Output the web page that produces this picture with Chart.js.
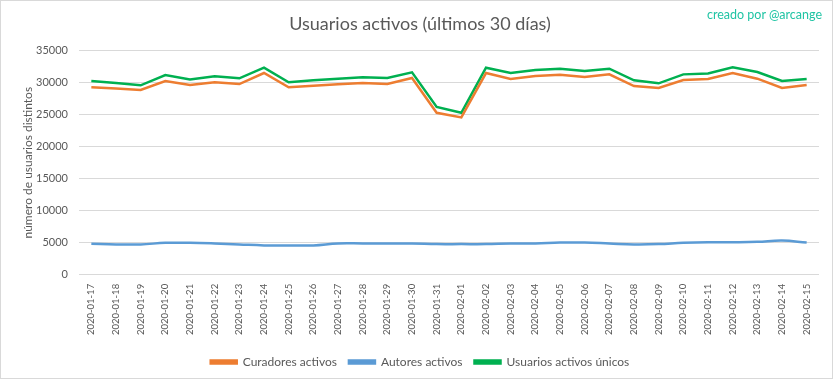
<!DOCTYPE html>
<html>
<head>
<meta charset="utf-8">
<script src="https://cdn.jsdelivr.net/npm/chart.js@4.4.1/dist/chart.umd.min.js"></script>
<style>
  html, body { margin: 0; padding: 0; background: #fff; }
  #wrap { position: relative; width: 833px; height: 379px; box-sizing: border-box; border: 1px solid #d9d9d9; }
  #c { position: absolute; left: 0; top: 0; }
  #credit { position: absolute; right: 10px; top: 6px; font-family: Lato, "Open Sans", sans-serif; font-size: 12.5px; color: #20c4a4; }
</style>
</head>
<body>
<div id="wrap">
  <canvas id="c" width="831" height="377"></canvas>
  <div id="credit">creado por @arcange</div>
</div>
<script>
const categories = ["2020-01-17","2020-01-18","2020-01-19","2020-01-20","2020-01-21","2020-01-22","2020-01-23","2020-01-24","2020-01-25","2020-01-26","2020-01-27","2020-01-28","2020-01-29","2020-01-30","2020-01-31","2020-02-01","2020-02-02","2020-02-03","2020-02-04","2020-02-05","2020-02-06","2020-02-07","2020-02-08","2020-02-09","2020-02-10","2020-02-11","2020-02-12","2020-02-13","2020-02-14","2020-02-15"];
const curadoresActivos = [29270,29100,28850,30250,29630,30050,29780,31500,29270,29530,29740,29950,29790,30720,25290,24570,31500,30560,31020,31240,30870,31290,29470,29160,30400,30560,31500,30620,29160,29630];
const autoresActivos = [4850,4750,4750,5000,5000,4900,4750,4600,4600,4600,4900,4900,4900,4900,4800,4800,4800,4900,4900,5050,5050,4900,4750,4800,5000,5100,5100,5150,5350,5050];
const usuariosActivosUnicos = [30250,29950,29580,31180,30500,30980,30670,32330,30050,30360,30620,30830,30720,31600,26220,25290,32330,31500,31960,32170,31800,32170,30360,29890,31290,31440,32380,31650,30250,30560];
const yTicks = [0,5000,10000,15000,20000,25000,30000,35000];
const seriesNames = ["Curadores activos","Autores activos","Usuarios activos únicos"];
const seriesColors = ["#ED7D31","#5B9BD5","#00B050"];

const FONT = 'Lato, "Open Sans", sans-serif';
const GREY = '#595959';

new Chart(document.getElementById('c'), {
  type: 'line',
  data: {
    labels: categories,
    datasets: [
      { label: seriesNames[0], data: curadoresActivos, borderColor: seriesColors[0], backgroundColor: seriesColors[0], borderWidth: 2.5, pointRadius: 0, tension: 0 },
      { label: seriesNames[1], data: autoresActivos, borderColor: seriesColors[1], backgroundColor: seriesColors[1], borderWidth: 2.5, pointRadius: 0, tension: 0.4 },
      { label: seriesNames[2], data: usuariosActivosUnicos, borderColor: seriesColors[2], backgroundColor: seriesColors[2], borderWidth: 2.5, pointRadius: 0, tension: 0 }
    ]
  },
  options: {
    responsive: false,
    animation: false,
    layout: { padding: { left: 20, right: 13, top: 0, bottom: 0 } },
    plugins: {
      title: { display: true, text: 'Usuarios activos (últimos 30 días)', color: GREY, font: { family: FONT, size: 18, weight: 'normal' }, padding: { top: 12, bottom: 16 } },
      legend: {
        position: 'bottom',
        labels: { color: GREY, font: { family: FONT, size: 12 }, boxWidth: 26, boxHeight: 3, padding: 12 }
      },
      tooltip: { enabled: false }
    },
    scales: {
      x: {
        offset: true,
        grid: { display: false, drawTicks: false },
        border: { display: false },
        afterFit: (scale) => { scale.paddingLeft = 0; scale.paddingRight = 0; },
        ticks: { color: GREY, font: { family: FONT, size: 9.5 }, maxRotation: 90, minRotation: 90, autoSkip: false, padding: 9 }
      },
      y: {
        min: 0, max: 35000,
        afterBuildTicks: (axis) => { axis.ticks = yTicks.map(v => ({ value: v })); },
        afterFit: (scale) => { scale.width = 58; },
        grid: { color: '#d9d9d9', drawTicks: false },
        border: { display: false },
        ticks: { color: GREY, font: { family: FONT, size: 11 }, padding: 11, callback: (v) => String(v) },
        title: { display: true, text: 'número de usuarios distintos', color: GREY, font: { family: FONT, size: 12 }, padding: { top: 0, bottom: 3 } }
      }
    }
  }
});
</script>
</body>
</html>
